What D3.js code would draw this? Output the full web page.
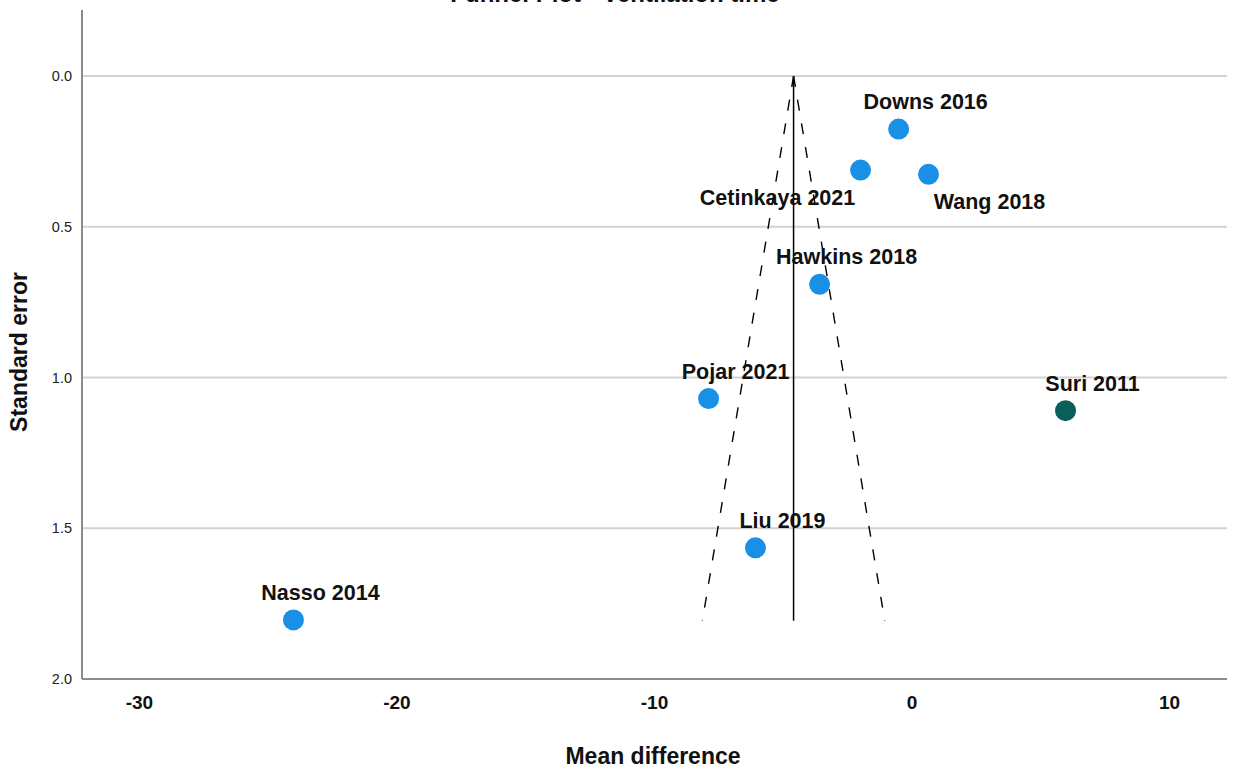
<!DOCTYPE html>
<html><head><meta charset="utf-8">
<script src="https://cdn.jsdelivr.net/npm/d3@7"></script>
<style>body{margin:0;background:#fff;} svg{display:block;font-family:"Liberation Sans",Arial,sans-serif;}</style>
</head><body><svg id="c" width="1233" height="769"></svg>
<script>
const studies = ["Downs 2016","Cetinkaya 2021","Wang 2018","Hawkins 2018","Pojar 2021","Suri 2011","Liu 2019","Nasso 2014"];
const meanDiff = [-0.50,-1.98,0.66,-3.57,-7.88,5.98,-6.06,-24.0];
const stdErr = [0.176,0.312,0.326,0.691,1.07,1.11,1.565,1.804];
const pooled = -4.58;
const maxSE = 1.807;
const xTicks = [-30,-20,-10,0,10];
const yTicks = [0.0,0.5,1.0,1.5,2.0];
const title = "Funnel Plot - Ventilation time";

const labelOffset = {"Cetinkaya 2021":[-83,35],"Wang 2018":[61,35]};
const defaultOffset = [27,-20];
const pointColor = d => d==="Suri 2011" ? "#0a5f5b" : "#1a8fe6";

const svg = d3.select("#c");
const L=82, R=1227, T=10, B=679;
const x = d3.scaleLinear().domain([-32.21,12.25]).range([L,R]);
const y = d3.scaleLinear().domain([-0.219,2.0]).range([T,B]);

// title (clipped at top)
svg.append("text").attr("x",615).attr("y",2).attr("text-anchor","middle")
  .attr("font-size",24).attr("font-weight","bold").attr("fill","#111").text(title);

// grid
svg.append("g").selectAll("line").data(yTicks.slice(0,4)).join("line")
  .attr("x1",L).attr("x2",R).attr("y1",d=>y(d)).attr("y2",d=>y(d))
  .attr("stroke","#d2d2d2").attr("stroke-width",2);

// axes
const yAxis = svg.append("g").attr("transform",`translate(${L},0)`)
  .call(d3.axisLeft(y).tickValues(yTicks).tickFormat(d3.format(".1f")).tickSize(0).tickPadding(10));
yAxis.select(".domain").attr("stroke","#8c8c8c").attr("stroke-width",2).attr("d",`M0,${T}V${B}`);
yAxis.selectAll("text").attr("font-size",14.5).attr("fill","#222").attr("font-family","Liberation Sans, Arial, sans-serif");

const xAxis = svg.append("g").attr("transform",`translate(0,${B})`)
  .call(d3.axisBottom(x).tickValues(xTicks).tickFormat(d=>String(d)).tickSize(0).tickPadding(17));
xAxis.select(".domain").attr("stroke","#8c8c8c").attr("stroke-width",2).attr("d",`M${L},0H${R}`);
xAxis.selectAll("text").attr("font-size",19).attr("font-weight","bold").attr("fill","#111")
  .attr("font-family","Liberation Sans, Arial, sans-serif");

// axis titles
svg.append("text").attr("x",653).attr("y",764).attr("text-anchor","middle")
  .attr("font-size",23).attr("font-weight","bold").attr("fill","#111").text("Mean difference");
svg.append("text").attr("transform","translate(27,352) rotate(-90)").attr("text-anchor","middle")
  .attr("font-size",23).attr("font-weight","bold").attr("fill","#111").text("Standard error");

// funnel
svg.append("line").attr("x1",x(pooled)).attr("x2",x(pooled)).attr("y1",y(0)).attr("y2",y(maxSE))
  .attr("stroke","#000").attr("stroke-width",1.5);
[-1,1].forEach(s=>{
  svg.append("line").attr("x1",x(pooled)).attr("y1",y(0))
    .attr("x2",x(pooled+s*1.96*maxSE)).attr("y2",y(maxSE))
    .attr("stroke","#000").attr("stroke-width",1.4).attr("stroke-dasharray","11,13");
});

// points
const data = studies.map((s,i)=>({s,md:meanDiff[i],se:stdErr[i]}));
svg.append("g").selectAll("circle").data(data).join("circle")
  .attr("cx",d=>x(d.md)).attr("cy",d=>y(d.se)).attr("r",10.5)
  .attr("fill",d=>pointColor(d.s));

// labels
svg.append("g").selectAll("text").data(data).join("text")
  .attr("x",d=>x(d.md)+(labelOffset[d.s]||defaultOffset)[0])
  .attr("y",d=>y(d.se)+(labelOffset[d.s]||defaultOffset)[1])
  .attr("text-anchor","middle").attr("font-size",21.5).attr("font-weight","bold").attr("fill","#111")
  .text(d=>d.s);
</script></body></html>
